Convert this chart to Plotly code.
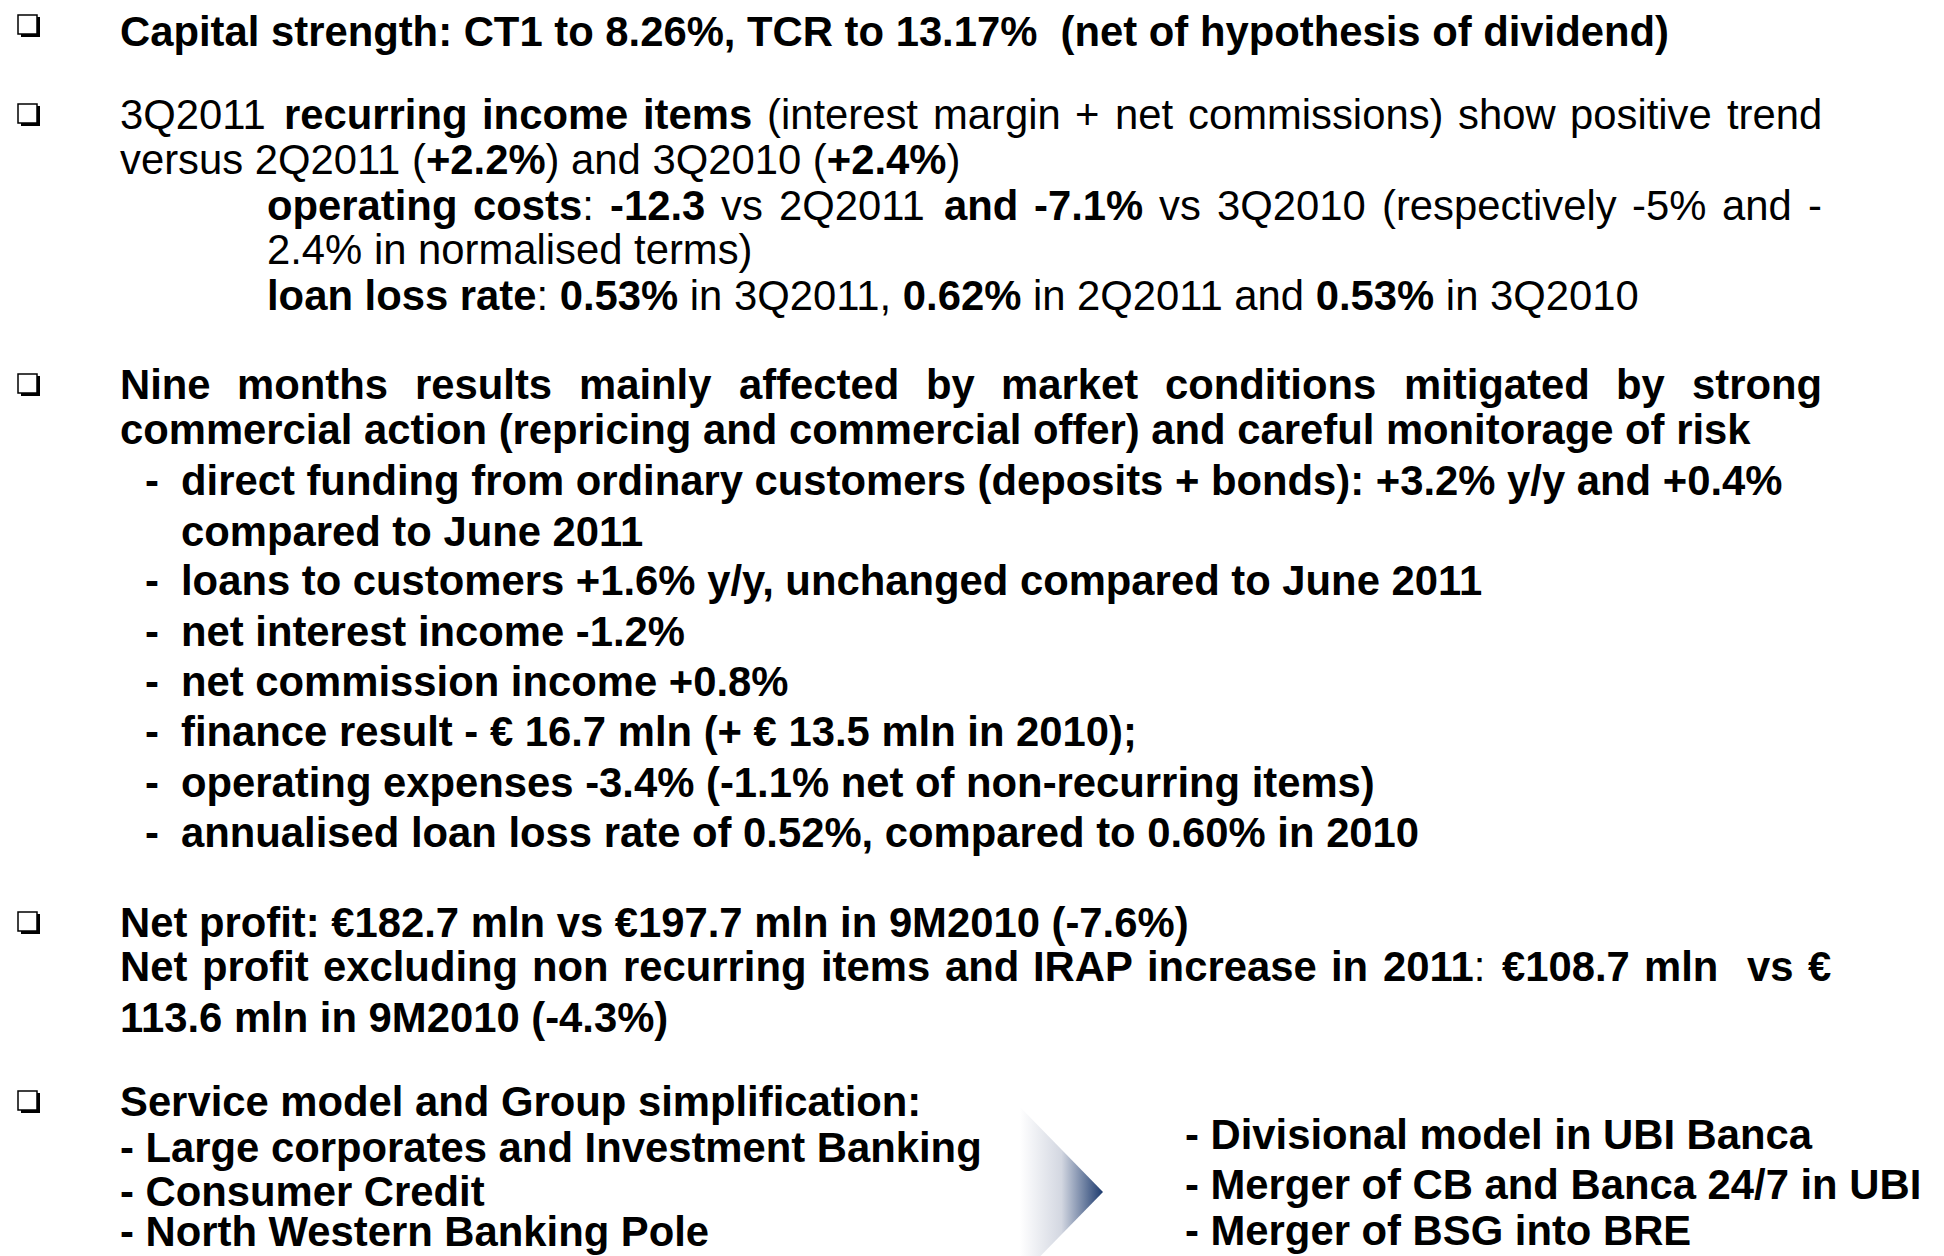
import plotly.graph_objects as go

W, H = 1944, 1256
OFF = 8  # browser body margin offset (page px -> figure px)
FONT = "Liberation Sans, Arial, sans-serif"
FS = 41.8

# ---------------- slide content ----------------
bullet_rows = [25, 114, 384, 922, 1101]

# plain (left-aligned) lines: (x_left, y_center, html_text)
main_lines = [
    (118, 31, "<b>Capital strength: CT1 to 8.26%, TCR to 13.17%\u00a0 (net of hypothesis of dividend)</b>"),
    (118, 159, "versus 2Q2011 (<b>+2.2%</b>) and 3Q2010 (<b>+2.4%</b>)"),
    (265, 249, "2.4% in normalised terms)"),
    (265, 295, "<b>loan loss rate</b>: <b>0.53%</b> in 3Q2011, <b>0.62%</b> in 2Q2011 and <b>0.53%</b> in 3Q2010"),
    (118, 429, "<b>commercial action (repricing and commercial offer) and careful monitorage of risk</b>"),
    (118, 922, "<b>Net profit: \u20ac182.7 mln vs \u20ac197.7 mln in 9M2010 (-7.6%)</b>"),
    (118, 1017, "<b>113.6 mln in 9M2010 (-4.3%)</b>"),
    (118, 1101, "<b>Service model and Group simplification:</b>"),
    (118, 1147, "<b>- Large corporates and Investment Banking</b>"),
    (118, 1191, "<b>- Consumer Credit</b>"),
    (118, 1231, "<b>- North Western Banking Pole</b>"),
    (1183, 1134, "<b>- Divisional model in UBI Banca</b>"),
    (1183, 1184, "<b>- Merger of CB and Banca 24/7 in UBI</b>"),
    (1183, 1230, "<b>- Merger of BSG into BRE</b>"),
]

# justified lines: (x_left, right_edge, y_center, runs[(text, bold)])
justified_lines = [
    (118, 1822, 114, [("3Q2011 ", False), ("recurring income items", True),
                      (" (interest margin + net commissions) show positive trend", False)]),
    (265, 1822, 205, [("operating costs", True), (": ", False), ("-12.3", True), (" vs 2Q2011 ", False),
                      ("and -7.1%", True), (" vs 3Q2010 (respectively -5% and -", False)]),
    (118, 1822, 384, [("Nine months results mainly affected by market conditions mitigated by strong", True)]),
    (118, 1831, 966, [("Net profit excluding non recurring items and IRAP increase in 2011", True), (": ", False),
                      ("\u20ac108.7 mln  vs \u20ac", True)]),
]

dash_items = [
    (480, True, "direct funding from ordinary customers (deposits + bonds): +3.2% y/y and +0.4%"),
    (531, False, "compared to June 2011"),
    (580, True, "loans to customers +1.6% y/y, unchanged compared to June 2011"),
    (631, True, "net interest income -1.2%"),
    (681, True, "net commission income +0.8%"),
    (731, True, "finance result - \u20ac 16.7 mln (+ \u20ac 13.5 mln in 2010);"),
    (782, True, "operating expenses -3.4% (-1.1% net of non-recurring items)"),
    (832, True, "annualised loan loss rate of 0.52%, compared to 0.60% in 2010"),
]
DASH_X, SUB_X = 143, 179

arrow_x = [1020, 1103, 1020]
arrow_y = [1107, 1192, 1277]

# ---------------- Arial-compatible advance widths (per 1000 em) ----------------
_common = {" ": 278, "(": 333, ")": 333, "+": 584, ",": 278, "-": 333, ".": 278, "/": 278,
           "%": 889, "\u20ac": 556, "\u00a0": 278}
for d in "0123456789":
    _common[d] = 556
W_REG = dict(_common)
W_REG.update({":": 278, "A": 667, "I": 278, "N": 722, "P": 667, "Q": 778, "R": 722,
              "a": 556, "b": 556, "c": 500, "d": 556, "e": 556, "f": 278, "g": 556, "h": 556,
              "i": 222, "j": 222, "k": 500, "l": 222, "m": 833, "n": 556, "o": 556, "p": 556,
              "q": 556, "r": 333, "s": 500, "t": 278, "u": 556, "v": 500, "w": 722, "x": 500,
              "y": 500, "z": 500})
W_BOLD = dict(_common)
W_BOLD.update({":": 333, "A": 722, "I": 278, "N": 722, "P": 667, "Q": 778, "R": 722,
               "a": 556, "b": 611, "c": 556, "d": 611, "e": 556, "f": 333, "g": 611, "h": 611,
               "i": 278, "j": 278, "k": 556, "l": 278, "m": 889, "n": 611, "o": 611, "p": 611,
               "q": 611, "r": 389, "s": 556, "t": 333, "u": 611, "v": 556, "w": 778, "x": 556,
               "y": 556, "z": 500})


def char_w(ch, bold):
    return (W_BOLD if bold else W_REG).get(ch, 556) * FS / 1000.0


def split_words(runs):
    words, cur = [], []
    for text, bold in runs:
        for ch in text:
            if ch == " ":
                words.append(cur)
                cur = []
            else:
                cur.append((ch, bold))
    words.append(cur)
    return words


def word_html(word):
    out, i = "", 0
    while i < len(word):
        b = word[i][1]
        seg = ""
        while i < len(word) and word[i][1] == b:
            seg += word[i][0]
            i += 1
        out += ("<b>" + seg + "</b>") if b else seg
    return out


fig = go.Figure()

fig.add_trace(go.Scatter(
    x=arrow_x, y=arrow_y, mode="lines", fill="toself",
    line=dict(width=0, color="rgba(0,0,0,0)"),
    fillgradient=dict(type="horizontal",
                      colorscale=[[0, "rgba(255,255,255,1)"], [0.5, "#d3d7e1"], [1, "#1c3a6e"]]),
    hoverinfo="skip", showlegend=False,
))


def ann(x, y, t):
    return dict(x=x, y=y, xref="x", yref="y", text=t, showarrow=False,
                xanchor="left", yanchor="middle", borderpad=0,
                font=dict(family=FONT, size=FS, color="black"))


annotations = []
for x, y, t in main_lines:
    annotations.append(ann(x + 1, y, t))

PAD = 1  # annotation inner offset
for x0, right, y, runs in justified_lines:
    words = split_words(runs)
    widths = [sum(char_w(c, b) for c, b in w) for w in words]
    ngaps = len(words) - 1
    space = char_w(" ", False)
    target = right - (x0 + 1 + PAD)
    extra = (target - sum(widths) - ngaps * space) / ngaps
    cx = x0 + 1
    for w, wd in zip(words, widths):
        if w:
            annotations.append(ann(cx, y, word_html(w)))
        cx += wd + space + extra

for y, dash, t in dash_items:
    if dash:
        annotations.append(ann(DASH_X + 1, y, "<b>-</b>"))
    annotations.append(ann(SUB_X + 1, y, "<b>" + t + "</b>"))

shapes = []
for y in bullet_rows:
    shapes.append(dict(type="rect", xref="x", yref="y", x0=21, x1=40, y0=y - 8, y1=y + 12,
                       fillcolor="black", line=dict(width=0)))
    shapes.append(dict(type="rect", xref="x", yref="y", x0=18, x1=37, y0=y - 10, y1=y + 9,
                       fillcolor="white", line=dict(width=1.5, color="black")))

fig.update_layout(
    width=W, height=H, margin=dict(l=0, r=0, t=0, b=0),
    paper_bgcolor="white", plot_bgcolor="white",
    xaxis=dict(range=[OFF, W + OFF], visible=False, fixedrange=True),
    yaxis=dict(range=[H + OFF, OFF], visible=False, fixedrange=True),
    annotations=annotations, shapes=shapes, showlegend=False,
)
fig.write_html("out.html")
